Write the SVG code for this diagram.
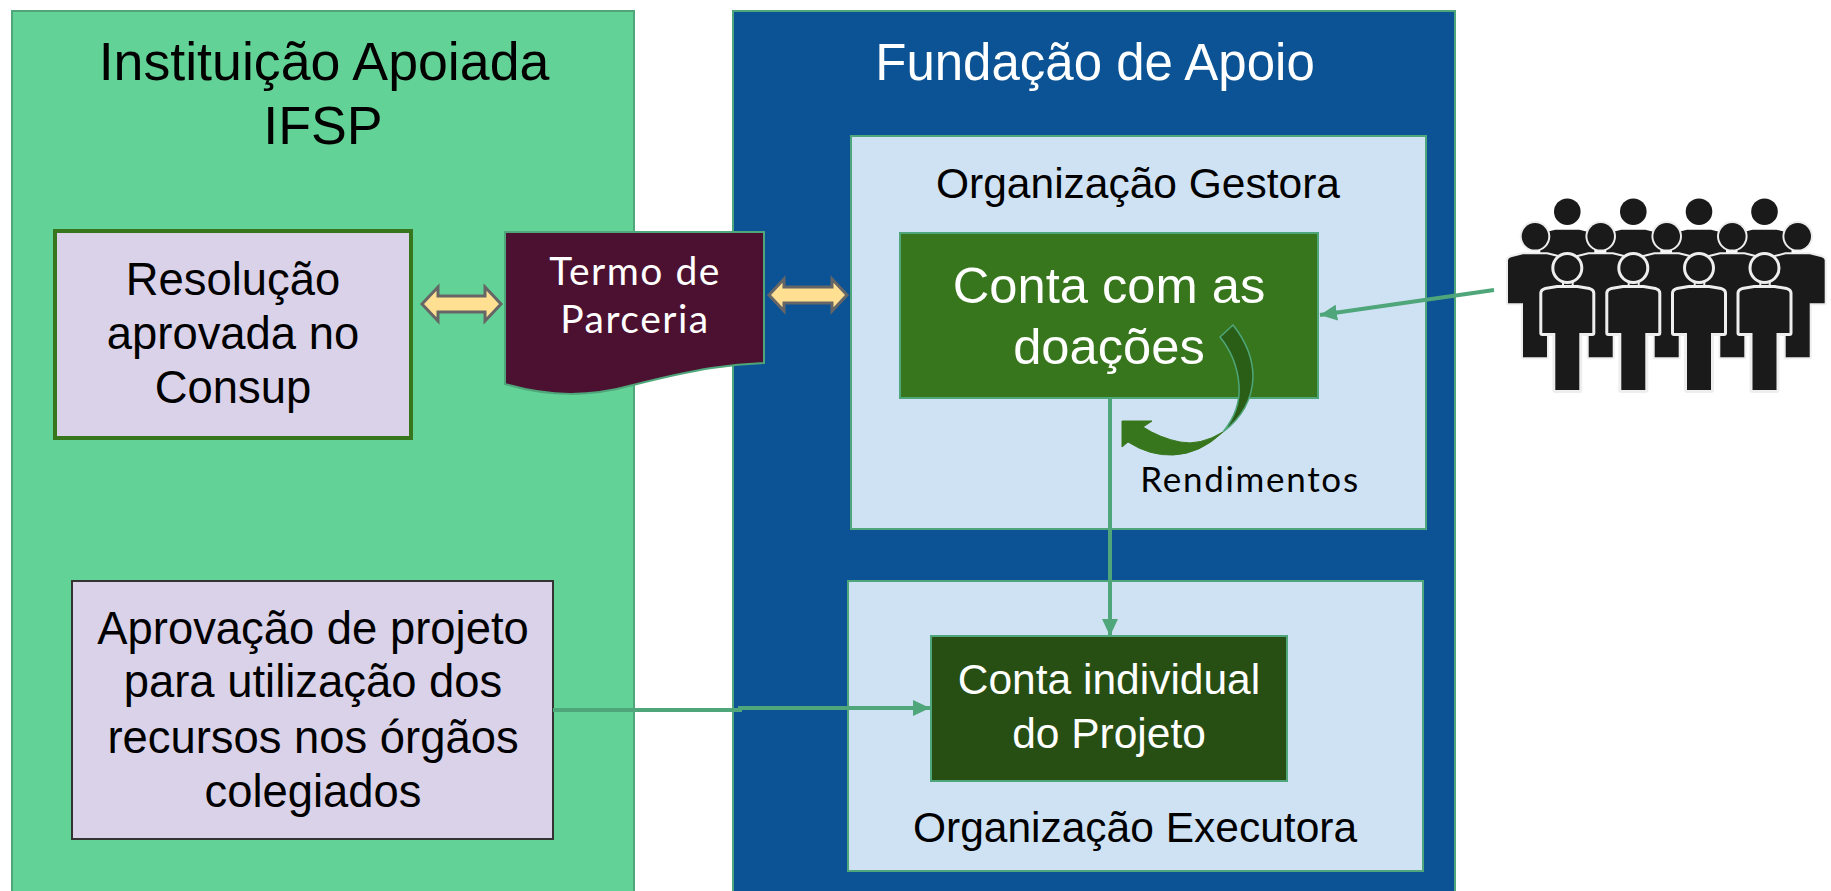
<svg xmlns="http://www.w3.org/2000/svg" width="1831" height="891" viewBox="0 0 1831 891">
<style>
text{font-family:"Liberation Sans",Arial,sans-serif;text-anchor:middle}
.k{fill:#000}.w{fill:#fff}
.t{font-size:53.7px}.f{font-size:51px}.c{font-size:50.7px}.m{font-size:45.4px}.i{font-size:42.5px}.o{font-size:42.5px}
.p{font-family:"Lato","Open Sans",sans-serif;font-size:39px;letter-spacing:1.5px}
.r{font-family:"Lato","Open Sans",sans-serif;font-size:35px;letter-spacing:1.7px}
.box{stroke:#4ea67a;stroke-width:2}
.conn{fill:none;stroke:#4ea67a;stroke-width:4}
.dbl{fill:#ffdf92;stroke:#666;stroke-width:3}
.ppl{fill:#1a1a1a;stroke-linejoin:round}
</style>
<defs>
<marker id="ah" markerUnits="userSpaceOnUse" markerWidth="18" markerHeight="16" refX="17" refY="8" orient="auto"><path d="M0 0L17 8L0 16Z" fill="#4ea67a"/></marker>
<g id="person"><circle cx="0" cy="0" r="13"/><path d="M-25 25Q-25 23 -22 22L-10 20H10L22 22Q25 23 25 25V65H12V122H-12V65H-25Z"/></g>
<g id="person-back"><circle cx="0" cy="0" r="13.3"/><path d="M-27 24Q-27 22 -24 21L-12 18H12L24 21Q27 22 27 24V67H12V121H-12V67H-27Z"/></g>
</defs>
<rect width="1831" height="891" fill="#fff"/>
<g id="panel-instituicao"><rect class="box" x="12" y="11" width="622" height="890" fill="#63d297"/><text class="t k" x="324" y="80">Instituição Apoiada</text><text class="t k" x="323" y="144">IFSP</text></g>
<g id="panel-fundacao"><rect class="box" x="733" y="11" width="722" height="890" fill="#0b5394"/><text class="f w" x="1095" y="80">Fundação de Apoio</text></g>
<g id="org-gestora"><rect class="box" x="851" y="136" width="575" height="393" fill="#cfe2f3"/><text class="o k" x="1138" y="198">Organização Gestora</text></g>
<g id="org-executora"><rect class="box" x="848" y="581" width="575" height="290" fill="#cfe2f3"/><text class="o k" x="1135" y="842">Organização Executora</text></g>
<g id="resolucao"><rect x="55" y="231" width="356" height="207" fill="#d9d2e9" stroke="#38761d" stroke-width="4"/><text class="m k" x="233" y="295">Resolução</text><text class="m k" x="233" y="349">aprovada no</text><text class="m k" x="233" y="403">Consup</text></g>
<g id="aprovacao"><rect x="72" y="581" width="481" height="258" fill="#d9d2e9" stroke="#333" stroke-width="2"/><text class="m k" x="313" y="644">Aprovação de projeto</text><text class="m k" x="313" y="697">para utilização dos</text><text class="m k" x="313" y="753">recursos nos órgãos</text><text class="m k" x="313" y="807">colegiados</text></g>
<g id="termo"><path d="M505 232H764V363C732 364 700 368 633 385C590 397 550 397 505 384Z" fill="#4c1130" stroke="#4ea67a" stroke-width="2"/><text class="p w" x="635" y="285">Termo de</text><text class="p w" x="635" y="333">Parceria</text></g>
<g id="conta-doacoes"><rect class="box" x="900" y="233" width="418" height="165" fill="#38761d"/><text class="c w" x="1109" y="303">Conta com as</text><text class="c w" x="1109" y="364">doações</text></g>
<g id="conta-projeto"><rect class="box" x="931" y="636" width="356" height="145" fill="#274e13"/><text class="i w" x="1109" y="694">Conta individual</text><text class="i w" x="1109" y="748">do Projeto</text></g>
<g id="pessoas">
<g class="ppl"><use href="#person-back" x="1567.3" y="211.7"/><use href="#person-back" x="1633.3" y="211.7"/><use href="#person-back" x="1699" y="211.7"/><use href="#person-back" x="1764.5" y="211.7"/></g>
<g class="ppl" stroke="#eee" stroke-width="4" paint-order="stroke"><use href="#person-back" x="1535" y="236.3"/><use href="#person-back" x="1600.7" y="236.3"/><use href="#person-back" x="1666.7" y="236.3"/><use href="#person-back" x="1732.3" y="236.3"/><use href="#person-back" x="1797.7" y="236.3"/></g>
<g class="ppl" stroke="#eee" stroke-width="6" paint-order="stroke"><use href="#person" x="1567.3" y="268"/><use href="#person" x="1633.3" y="268"/><use href="#person" x="1699" y="268"/><use href="#person" x="1764.5" y="268"/></g>
</g>
<g id="connectors">
<path class="conn" d="M1494 290L1320 315" marker-end="url(#ah)"/>
<path class="conn" d="M1110 398V636" marker-end="url(#ah)"/>
<path class="conn" d="M553 710H740V708H930" marker-end="url(#ah)"/>
<path class="dbl" d="M422 304L438 287V296H485V287L501 304L485 321V312H438V321Z"/>
<path class="dbl" d="M769 295L784 279V287H832V279L847 295L832 311V303H784V311Z"/>
<path d="M1223 432Q1200 446 1180 442Q1160 438 1143 427L1152 421H1122V447L1128 442Q1150 456 1173 455Q1200 454 1223 432Z" fill="#38761d" stroke="#38761d"/>
<path d="M1233 325Q1253 350 1253 377Q1252 410 1223 432Q1241 410 1239 385Q1237 358 1220 337Z" fill="#2a5e16" stroke="#4ea67a" stroke-width="1.5"/>
<text class="r k" x="1250" y="492">Rendimentos</text>
</g>
</svg>
